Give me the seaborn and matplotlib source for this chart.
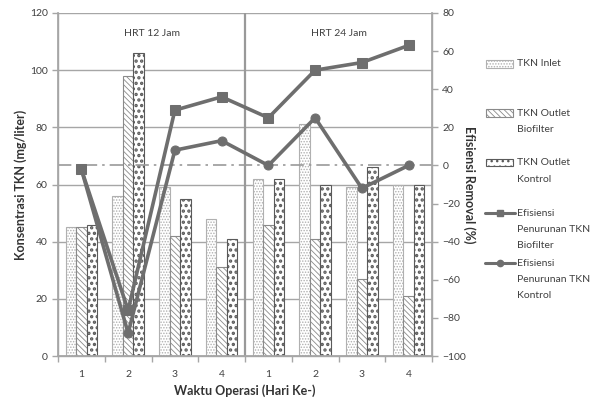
import numpy as np
import pandas as pd
import matplotlib
matplotlib.use("Agg")
import matplotlib.pyplot as plt
from matplotlib.patches import Rectangle
from matplotlib.lines import Line2D
import seaborn as sns

# ---------------- data ----------------
days = ["1", "2", "3", "4", "1", "2", "3", "4"]
slots = ["12-1", "12-2", "12-3", "12-4", "24-1", "24-2", "24-3", "24-4"]
tkn_inlet = [45, 56, 59, 48, 62, 81, 59, 60]
tkn_biofilter = [45, 98, 42, 31, 46, 41, 27, 21]
tkn_kontrol = [46, 106, 55, 41, 62, 60, 66, 60]
eff_biofilter = [-2, -76, 29, 36, 25, 50, 54, 63]
eff_kontrol = [-2, -88, 8, 13, 0, 25, -12, 0]
series_names = ["TKN Inlet", "TKN Outlet\nBiofilter", "TKN Outlet\nKontrol"]
line_names = ["Efisiensi\nPenurunan TKN\nBiofilter", "Efisiensi\nPenurunan TKN\nKontrol"]
group_labels = ["HRT 12 Jam", "HRT 24 Jam"]

df = pd.DataFrame({
    "slot": slots * 3,
    "value": tkn_inlet + tkn_biofilter + tkn_kontrol,
    "series": [series_names[0]] * 8 + [series_names[1]] * 8 + [series_names[2]] * 8,
})

sns.set_theme(style="white")
plt.rcParams["font.family"] = ["Lato", "DejaVu Sans"]
plt.rcParams["hatch.linewidth"] = 0.7

W, H = 601, 403
fig = plt.figure(figsize=(W / 100, H / 100), dpi=100)
ax = fig.add_axes([58 / W, 1 - 356 / H, (432 - 58) / W, (356 - 13) / H])

grid_c = "#a6a6a6"
line_c = "#6e6e6e"
txt_c = "#404040"

sns.barplot(data=df, x="slot", y="value", hue="series", order=slots,
            hue_order=series_names, width=0.67, gap=0, ax=ax, legend=False,
            palette=["white", "white", "white"], saturation=1)

styles = [("#b0b0b0", "......", 0.7), ("#8a8a8a", "\\\\\\\\\\\\", 0.6), ("#5a5a5a", "...", 1.6)]
for cont, (ec, h, hl) in zip(ax.containers, styles):
    for p in cont.patches:
        p.set_facecolor("white")
        p.set_edgecolor(ec)
        p.set_hatch(h)
        p.set_linewidth(0.8)
        if hasattr(p, "set_hatch_linewidth"):
            p.set_hatch_linewidth(hl)
        p.set_zorder(2)

ax.set_ylim(0, 120)
ax.set_yticks(np.arange(0, 121, 20))
ax.set_xlim(-0.5, 7.5)
ax.yaxis.grid(True, color=grid_c, linewidth=1.0)
ax.set_axisbelow(True)
ax.set_xticks(range(8))
ax.set_xticklabels(days)
ax.set_xticks(np.arange(-0.5, 8.0, 1.0), minor=True)
ax.tick_params(axis="x", which="major", length=0, labelsize=7.5, pad=10, colors=txt_c)
ax.tick_params(axis="x", which="minor", length=4, color=grid_c, width=1, direction="out", bottom=True)
ax.tick_params(axis="y", length=4, color=grid_c, width=1, left=True, labelsize=7.5, colors=txt_c)
for s in ax.spines.values():
    s.set_color(grid_c)
    s.set_linewidth(1.0)
ax.spines["top"].set_visible(False)
ax.axvline(3.5, color="#999999", linewidth=1.6, zorder=1)

ax.set_xlabel("Waktu Operasi (Hari Ke-)", fontsize=9, fontweight="bold", color="#333333", labelpad=4)
ax.set_ylabel("Konsentrasi TKN (mg/liter)", fontsize=9, fontweight="bold", color="#333333", labelpad=2)

ax.text(1.5, 113, group_labels[0], ha="center", va="center", fontsize=7.5, color=txt_c)
ax.text(5.5, 113, group_labels[1], ha="center", va="center", fontsize=7.5, color=txt_c)

ax2 = ax.twinx()
ax2.set_ylim(-100, 80)
ax2.set_yticks(np.arange(-100, 81, 20))
ax2.axhline(0, color="#999999", linewidth=1.2, linestyle=(0, (8, 3, 1.5, 3)), zorder=1)
pos = np.arange(8)
sns.lineplot(x=pos, y=eff_biofilter, ax=ax2, color=line_c, linewidth=2.6,
             marker="s", markersize=7, markeredgecolor=line_c, label=line_names[0])
sns.lineplot(x=pos, y=eff_kontrol, ax=ax2, color=line_c, linewidth=2.6,
             marker="o", markersize=6.5, markeredgecolor=line_c, label=line_names[1])
ax2.get_legend().remove()
ax2.set_xlim(-0.5, 7.5)
ax2.tick_params(axis="y", length=4, color=grid_c, width=1, right=True, labelsize=7.5, colors=txt_c)
for s in ax2.spines.values():
    s.set_color(grid_c)
ax2.spines["top"].set_visible(False)
ax2.set_ylabel("Efisiensi Removal (%)", fontsize=9, fontweight="bold", color="#333333",
               rotation=270, labelpad=-2, va="bottom")

# ---- legend (Excel-style layout, handle aligned with first text line) ----
entries = [
    (series_names[0], "bar", 0, 64),
    (series_names[1], "bar", 1, 113),
    (series_names[2], "bar", 2, 163),
    (line_names[0], "line", "s", 213),
    (line_names[1], "line", "o", 263),
]
lsp = 16.3
for label, kind, key, y0 in entries:
    yf = 1 - y0 / H
    if kind == "bar":
        ec, h, hl = styles[key]
        r = Rectangle((486 / W, 1 - (y0 + 3.5) / H), 27 / W, 7 / H, transform=fig.transFigure,
                      facecolor="white", edgecolor=ec, hatch=h, linewidth=0.8)
        if hasattr(r, "set_hatch_linewidth"):
            r.set_hatch_linewidth(min(hl, 1.0))
        fig.add_artist(r)
    else:
        ms = 5 if key == "s" else 4.5
        fig.add_artist(Line2D([485 / W, 500 / W, 515 / W], [yf, yf, yf], transform=fig.transFigure,
                              color=line_c, linewidth=2.2, marker=key, markersize=ms,
                              markevery=[1], markeredgecolor=line_c))
    for i, part in enumerate(label.split("\n")):
        fig.text(517 / W, 1 - (y0 + i * lsp) / H, part, ha="left", va="center",
                 fontsize=7.5, color=txt_c)

fig.savefig("out.png", dpi=100)
